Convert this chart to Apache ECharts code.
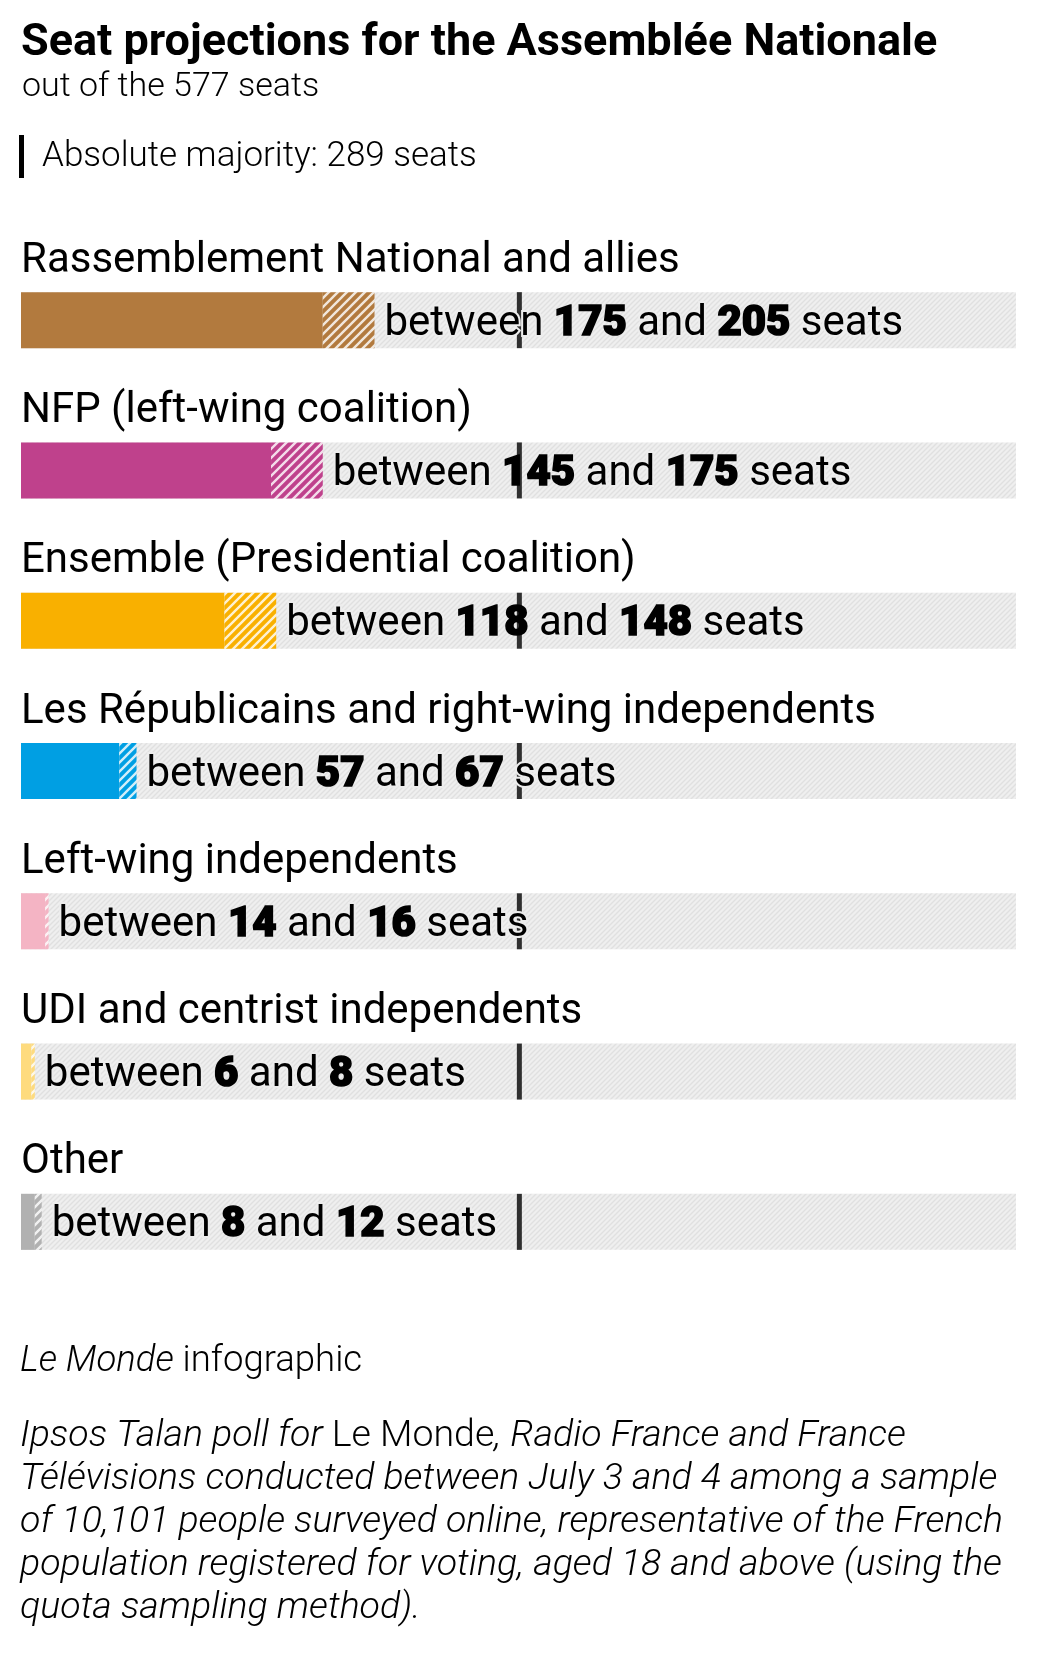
<!DOCTYPE html>
<html>
<head>
<meta charset="utf-8">
<script src="https://cdn.jsdelivr.net/npm/echarts@6/dist/echarts.min.js"></script>
<style>
html,body{margin:0;padding:0;background:#fff;}
#chart{width:1050px;height:1653px;}
</style>
</head>
<body>
<div id="chart"></div>
<script>
// ---- data ----
const categories = [
  'Rassemblement National and allies',
  'NFP (left-wing coalition)',
  'Ensemble (Presidential coalition)',
  'Les Républicains and right-wing independents',
  'Left-wing independents',
  'UDI and centrist independents',
  'Other'
];
const seatsLow  = [175, 145, 118, 57, 14, 6, 8];
const seatsHigh = [205, 175, 148, 67, 16, 8, 12];
const totalSeats = 577;
const majoritySeats = 289;
const partyColors = ['#b27a3e', '#bf418c', '#f9b000', '#009fe3', '#f4b4c4', '#fedb7e', '#b1b1b1'];

const FONT = 'Roboto';

// ---- patterns ----
function stripePattern(base, stripe, s, lw) {
  const c = document.createElement('canvas');
  c.width = s; c.height = s;
  const g = c.getContext('2d');
  g.fillStyle = base; g.fillRect(0, 0, s, s);
  g.strokeStyle = stripe; g.lineWidth = lw; g.lineCap = 'square';
  g.beginPath();
  g.moveTo(0, s); g.lineTo(s, 0);
  g.moveTo(-1, 1); g.lineTo(1, -1);
  g.moveTo(s - 1, s + 1); g.lineTo(s + 1, s - 1);
  g.stroke();
  return { image: c, repeat: 'repeat' };
}
const bgPattern = stripePattern('#efefef', '#e0e0e0', 5, 1.4);

const chart = echarts.init(document.getElementById('chart'), null, { renderer: 'canvas' });

const bgData = categories.map(() => totalSeats);
const lowData = seatsLow.map((v, i) => ({ value: v, itemStyle: { color: partyColors[i] } }));
const rangeData = seatsHigh.map((v, i) => ({
  value: v - seatsLow[i],
  low: seatsLow[i], high: v,
  itemStyle: { color: stripePattern(partyColors[i], 'rgba(255,255,255,0.82)', 9, 2.4) }
}));
const majorityData = categories.map(c => [majoritySeats, c]);

const halo = { textBorderColor: '#ededed', textBorderWidth: 4 };

const option = {
  backgroundColor: '#ffffff',
  animation: false,
  grid: { left: 21, right: 34, top: 245, height: 1052, containLabel: false },
  xAxis: { type: 'value', min: 0, max: totalSeats, show: false },
  yAxis: { type: 'category', data: categories, inverse: true, show: false },
  series: [
    {
      type: 'bar', name: 'bg', data: bgData, barWidth: 56, barGap: '-100%', z: 1,
      itemStyle: { color: bgPattern },
      silent: true,
      label: {
        show: true, position: [0, -31], align: 'left', verticalAlign: 'middle',
        formatter: p => p.name, fontFamily: FONT, fontSize: 42, color: '#000', fontWeight: 400
      }
    },
    {
      type: 'scatter', name: 'majority', data: majorityData, symbol: 'rect',
      symbolSize: [5, 56], itemStyle: { color: '#000' }, z: 2, silent: true
    },
    {
      type: 'bar', name: 'low', stack: 'range', data: lowData, barWidth: 56, barGap: '-100%', z: 3
    },
    {
      type: 'bar', name: 'range', stack: 'range', data: rangeData, barWidth: 56, barGap: '-100%', z: 3,
      label: {
        show: true, position: 'right', distance: 10, offset: [0, 4],
        formatter: p => '{r|between }{b|' + p.data.low + '}{r| and }{b|' + p.data.high + '}{r| seats}',
        rich: {
          r: Object.assign({ fontFamily: FONT, fontSize: 42, fontWeight: 400, color: '#000' }, halo),
          b: { fontFamily: FONT, fontSize: 42, fontWeight: 900, color: '#000', textBorderColor: '#000', textBorderWidth: 1.6 }
        }
      }
    }
  ],
  graphic: [
    { type: 'text', left: 21, top: 21, style: { text: 'Seat projections for the Assemblée Nationale', fontFamily: FONT, fontSize: 45, fontWeight: 700, fill: '#000' } },
    { type: 'text', left: 22, top: 70, style: { text: 'out of the 577 seats', fontFamily: FONT, fontSize: 34, fontWeight: 300, fill: '#000' } },
    { type: 'rect', shape: { x: 19, y: 135, width: 5, height: 43 }, style: { fill: '#000' } },
    { type: 'text', left: 42, top: 140, style: { text: 'Absolute majority: 289 seats', fontFamily: FONT, fontSize: 35, fontWeight: 300, fill: '#000' } },
    { type: 'text', left: 20, top: 1343, style: {
        text: '{i|Le Monde}{r| infographic}',
        rich: {
          i: { fontFamily: FONT, fontSize: 36.5, fontWeight: 300, fontStyle: 'italic', fill: '#000', color: '#000' },
          r: { fontFamily: FONT, fontSize: 36.5, fontWeight: 300, fill: '#000', color: '#000' }
        }
    } },
    { type: 'text', left: 20, top: 1418, style: {
        text: '{i|Ipsos Talan poll for }{r|Le Monde}{i|, Radio France and France}\n' +
              '{i|Télévisions conducted between July 3 and 4 among a sample}\n' +
              '{i|of 10,101 people surveyed online, representative of the French}\n' +
              '{i|population registered for voting, aged 18 and above (using the}\n' +
              '{i|quota sampling method).}',
        rich: {
          i: { fontFamily: FONT, fontSize: 37.5, fontWeight: 300, fontStyle: 'italic', fill: '#000', color: '#000', lineHeight: 43 },
          r: { fontFamily: FONT, fontSize: 37.5, fontWeight: 300, fill: '#000', color: '#000', lineHeight: 43 }
        }
    } }
  ]
};
chart.setOption(option);
</script>
</body>
</html>
